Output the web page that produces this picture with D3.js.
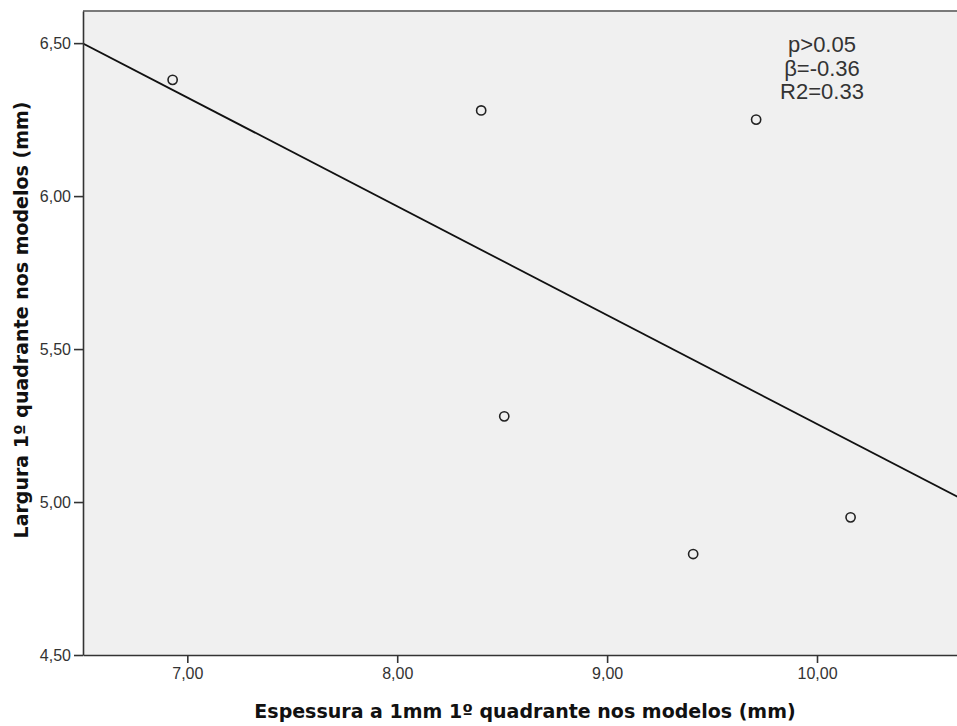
<!DOCTYPE html>
<html>
<head>
<meta charset="utf-8">
<script src="https://cdn.jsdelivr.net/npm/d3@7"></script>
<style>
  body { margin: 0; background: #fff; }
  svg { display: block; font-family: "Liberation Sans", Arial, sans-serif; }
</style>
</head>
<body>
<script>
// data
const espessura = [6.93, 8.40, 9.71, 8.51, 9.41, 10.16];
const largura = [6.38, 6.28, 6.25, 5.28, 4.83, 4.95];
// fit line end points (as drawn)
const fitX = [6.50, 10.67];
const fitY = [6.50, 5.017];
const xTicks = [7, 8, 9, 10];
const yTicks = [4.5, 5.0, 5.5, 6.0, 6.5];
const notes = ["p>0.05", "β=-0.36", "R2=0.33"];

const W = 957, H = 726;
const margin = { top: 11, right: 0, bottom: 71, left: 83 };

const svg = d3.select('body').append('svg')
    .attr('width', W)
    .attr('height', H);

const x = d3.scaleLinear()
    .domain([6.503, 10.667])
    .range([margin.left, W - margin.right]);

const y = d3.scaleLinear()
    .domain([4.5, 6.605])
    .range([H - margin.bottom, margin.top]);

const fmt = d => d.toFixed(2).replace('.', ',');

svg.append('defs').append('clipPath').attr('id', 'clip')
  .append('rect')
    .attr('x', margin.left).attr('y', margin.top)
    .attr('width', W - margin.left - margin.right)
    .attr('height', H - margin.bottom - margin.top);

// plot background
svg.append('rect')
    .attr('x', margin.left)
    .attr('y', margin.top)
    .attr('width', W - margin.left - margin.right)
    .attr('height', H - margin.bottom - margin.top)
    .style('fill', '#f0f0f0');

// top border
svg.append('line')
    .attr('x1', margin.left).attr('x2', W)
    .attr('y1', margin.top).attr('y2', margin.top)
    .style('stroke', '#7a7a7a')
    .style('stroke-width', 2);

const plot = svg.append('g').attr('clip-path', 'url(#clip)');

// fit line
plot.append('line')
    .attr('x1', x(fitX[0])).attr('y1', y(fitY[0]))
    .attr('x2', x(fitX[1])).attr('y2', y(fitY[1]))
    .style('stroke', '#111')
    .style('stroke-width', 1.8);

// points
plot.append('g')
  .selectAll('circle')
  .data(espessura)
  .enter()
  .append('circle')
    .attr('cx', d => x(d))
    .attr('cy', (d, i) => y(largura[i]))
    .attr('r', 4.6)
    .style('fill', 'none')
    .style('stroke', '#222')
    .style('stroke-width', 1.6);

// axes
const xAxis = svg.append('g')
    .attr('transform', `translate(0, ${H - margin.bottom})`)
    .call(d3.axisBottom(x).tickValues(xTicks).tickFormat(fmt).tickSize(8).tickSizeOuter(0).tickPadding(5));

const yAxis = svg.append('g')
    .attr('transform', `translate(${margin.left}, 0)`)
    .call(d3.axisLeft(y).tickValues(yTicks).tickFormat(fmt).tickSize(9).tickSizeOuter(0).tickPadding(3));

[xAxis, yAxis].forEach(a => {
  a.select('.domain').style('stroke', '#333').style('stroke-width', 1.6);
  a.selectAll('.tick line').style('stroke', '#333').style('stroke-width', 1.6);
  a.selectAll('.tick text')
    .style('font-size', '16px')
    .style('fill', '#333')
    .style('font-family', '"Liberation Sans", Arial, sans-serif');
});
yAxis.selectAll('.tick text').attr('dy', '0.35em');

// annotation
svg.append('text')
    .attr('x', 822)
    .attr('y', 52)
    .style('text-anchor', 'middle')
    .style('font-size', '22px')
    .style('fill', '#333')
  .selectAll('tspan')
  .data(notes)
  .enter()
  .append('tspan')
    .attr('x', 822)
    .attr('dy', (d, i) => i === 0 ? 0 : 23.5)
    .text(d => d);

// axis titles
svg.append('text')
    .attr('x', 525)
    .attr('y', 718)
    .style('text-anchor', 'middle')
    .style('font-family', '"DejaVu Sans", sans-serif')
    .style('font-size', '19px')
    .style('font-weight', 'bold')
    .style('fill', '#111')
    .text('Espessura a 1mm 1º quadrante nos modelos (mm)');

svg.append('text')
    .attr('transform', 'rotate(-90)')
    .attr('x', -320)
    .attr('y', 28)
    .style('text-anchor', 'middle')
    .style('font-family', '"DejaVu Sans", sans-serif')
    .style('font-size', '19px')
    .style('font-weight', 'bold')
    .style('fill', '#111')
    .text('Largura 1º quadrante nos modelos (mm)');
</script>
</body>
</html>
